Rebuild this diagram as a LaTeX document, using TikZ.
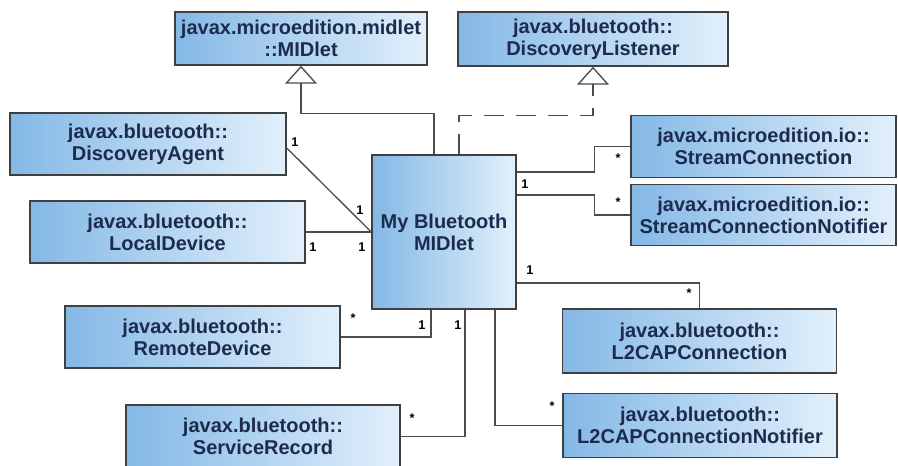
\documentclass[tikz,border=0pt]{standalone}
\usepackage{fontspec}
\setmainfont{Liberation Sans}
\usepackage{xcolor}
\usetikzlibrary{arrows.meta,positioning}
\definecolor{boxdark}{HTML}{84B8E6}
\definecolor{boxlight}{HTML}{E2F0FB}
\definecolor{navytext}{HTML}{1C2B4E}

\begin{document}
\begin{tikzpicture}[x=0.75pt,y=-0.75pt,
  font=\fontsize{15}{16.5}\selectfont\bfseries,
  umlbox/.style={draw=black!75,line width=1.1pt,left color=boxdark,right color=boxlight,
    text=navytext,align=center,inner sep=0pt},
  assoc/.style={draw=black!70,line width=1pt},
  genline/.style={assoc,-{Triangle[open,width=24pt,length=13.5pt]}},
  realline/.style={genline,dash pattern=on 15pt off 9pt},
  mult/.style={font=\fontsize{9.5}{9.5}\selectfont\bfseries,text=black,inner sep=0pt}]
\useasboundingbox (0,0) rectangle (898,466);
\fill[white] (0,0) rectangle (898,466);

\node[umlbox,minimum width=189pt,minimum height=39.75pt] (midlet) at (301,38.5) {javax.microedition.midlet\\::MIDlet};
\node[umlbox,minimum width=202.5pt,minimum height=40.5pt] (dlist) at (593,39) {javax.bluetooth::\\DiscoveryListener};
\node[umlbox,minimum width=207pt,minimum height=46.5pt] (dagent) at (148,144) {javax.bluetooth::\\DiscoveryAgent};
\node[umlbox,minimum width=206.25pt,minimum height=46.5pt] (ldev) at (167.5,232) {javax.bluetooth::\\LocalDevice};
\node[umlbox,minimum width=206.25pt,minimum height=46.5pt] (rdev) at (202.5,337) {javax.bluetooth::\\RemoteDevice};
\node[umlbox,minimum width=205.5pt,minimum height=47.25pt] (srec) at (263,436.5) {javax.bluetooth::\\ServiceRecord};
\node[umlbox,minimum width=108pt,minimum height=115.5pt] (mybt) at (444,232) {My Bluetooth\\MIDlet};
\node[umlbox,minimum width=198.75pt,minimum height=46.5pt] (sconn) at (763.5,146.5) {javax.microedition.io::\\StreamConnection};
\node[umlbox,minimum width=198.75pt,minimum height=45.75pt] (snotif) at (763.5,215) {javax.microedition.io::\\StreamConnectionNotifier};
\node[umlbox,minimum width=205.5pt,minimum height=48pt] (l2c) at (699.5,341) {javax.bluetooth::\\L2CAPConnection};
\node[umlbox,minimum width=205.5pt,minimum height=48pt] (l2cn) at (700,425.5) {javax.bluetooth::\\L2CAPConnectionNotifier};

\draw[genline] ([xshift=-7.5pt]mybt.north) |- ([yshift=-36pt]midlet.south) -- (midlet.south);
\draw[realline] ([xshift=11.25pt]mybt.north) |- ([yshift=-36.75pt]dlist.south) -- (dlist.south);

\draw[assoc] ([yshift=-3pt]dagent.east) -- (mybt.west);
\draw[assoc] (ldev.east) -- (mybt.west);
\draw[assoc] (rdev.east) -| ([xshift=-9.75pt]mybt.south);
\draw[assoc] (srec.east) -| ([xshift=15.75pt]mybt.south);
\draw[assoc] ([xshift=38.25pt]mybt.south) |- (l2cn.west);
\draw[assoc] ([yshift=45pt]mybt.east) -- ++(78,0) |- (sconn.west);
\draw[assoc] ([yshift=27.75pt]mybt.east) -- ++(78,0) |- (snotif.west);
\draw[assoc] ([yshift=-38.25pt]mybt.east) -| (l2c.north);

\node[mult] (m1) at (295,142) {1};
\node[mult] (m2) at (360,210) {1};
\node[mult] (m3) at (313,247) {1};
\node[mult] (m4) at (362,247) {1};
\node[mult] (m5) at (353,318) {*};
\node[mult] (m6) at (422,325) {1};
\node[mult] (m7) at (412,418) {*};
\node[mult] (m8) at (458,325) {1};
\node[mult] (m9) at (552,406) {*};
\node[mult] (m10) at (530,270) {1};
\node[mult] (m11) at (689,293) {*};
\node[mult] (m12) at (525,184) {1};
\node[mult] (m13) at (618,158) {*};
\node[mult] (m14) at (618,202) {*};
\end{tikzpicture}
\end{document}
